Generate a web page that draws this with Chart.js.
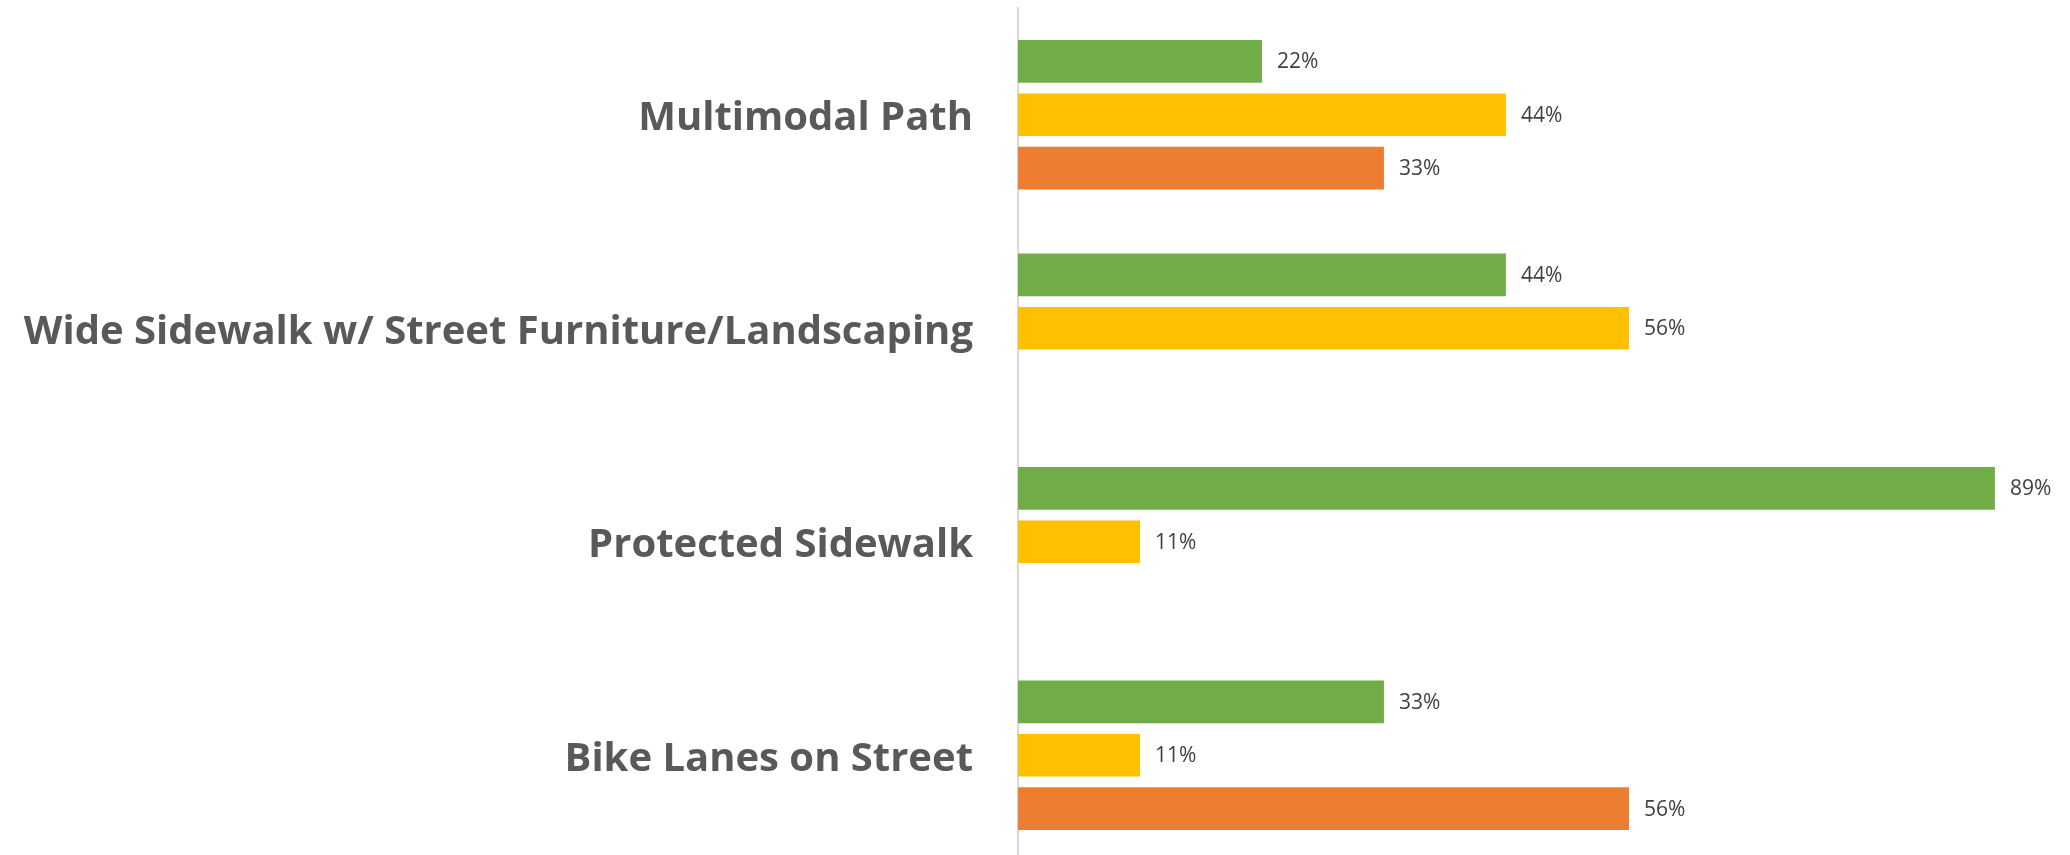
<!DOCTYPE html>
<html>
<head>
<meta charset="utf-8">
<script src="https://cdn.jsdelivr.net/npm/chart.js@4/dist/chart.umd.min.js"></script>
<style>
  html, body { margin: 0; padding: 0; background: #fff; overflow: hidden; }
  #wrap { position: absolute; left: 0; top: 0; width: 2070px; height: 862px; }
</style>
</head>
<body>
<div id="wrap"><canvas id="myChart"></canvas></div>
<script>
// categories, top to bottom
const categories = [
  'Multimodal Path',
  'Wide Sidewalk w/ Street Furniture/Landscaping',
  'Protected Sidewalk',
  'Bike Lanes on Street'
];

// share of responses, percent (9 respondents, so ninths)
const greenValues = [22.2, 44.4, 88.9, 33.3];
const yellowValues = [44.4, 55.6, 11.1, 11.1];
const orangeValues = [33.3, null, null, 55.6];

const xMax = 90;

const fontFamily = '"Open Sans", Calibri, sans-serif';

// value labels at the end of each bar
const barLabels = {
  id: 'barLabels',
  afterDatasetsDraw(chart) {
    const ctx = chart.ctx;
    ctx.save();
    ctx.font = '21px ' + fontFamily;
    ctx.fillStyle = '#404040';
    ctx.textAlign = 'left';
    ctx.textBaseline = 'middle';
    chart.data.datasets.forEach((ds, i) => {
      chart.getDatasetMeta(i).data.forEach((bar, j) => {
        const v = ds.data[j];
        if (v == null) return;
        ctx.fillText(Math.round(v) + '%', bar.x + 15, bar.y + 1);
      });
    });
    ctx.restore();
  }
};

new Chart(document.getElementById('myChart'), {
  type: 'bar',
  data: {
    labels: categories,
    datasets: [
      { label: 'Series 1', data: greenValues, backgroundColor: '#70AD47' },
      { label: 'Series 2', data: yellowValues, backgroundColor: '#FFC000' },
      { label: 'Series 3', data: orangeValues, backgroundColor: '#ED7D31' }
    ]
  },
  options: {
    indexAxis: 'y',
    responsive: true,
    maintainAspectRatio: false,
    animation: false,
    categoryPercentage: 0.75,
    barPercentage: 0.8,
    layout: { padding: { top: 8, right: 63, bottom: 0, left: 0 } },
    plugins: {
      legend: { display: false },
      tooltip: { enabled: false }
    },
    scales: {
      x: {
        display: false,
        min: 0,
        max: xMax
      },
      y: {
        grid: { display: false, drawTicks: false },
        border: { display: true, color: '#d9d9d9', width: 2 },
        ticks: {
          padding: 45,
          color: '#595959',
          font: { family: fontFamily, size: 40, weight: 'bold', lineHeight: 0.2 },
          // empty first line nudges the label down a few px
          callback(value) { return ['', this.getLabelForValue(value)]; }
        },
        afterFit(scale) {
          scale.width = 1018;
          scale.paddingTop = 0;
          scale.paddingBottom = 0;
        }
      }
    }
  },
  plugins: [barLabels]
});
</script>
</body>
</html>
